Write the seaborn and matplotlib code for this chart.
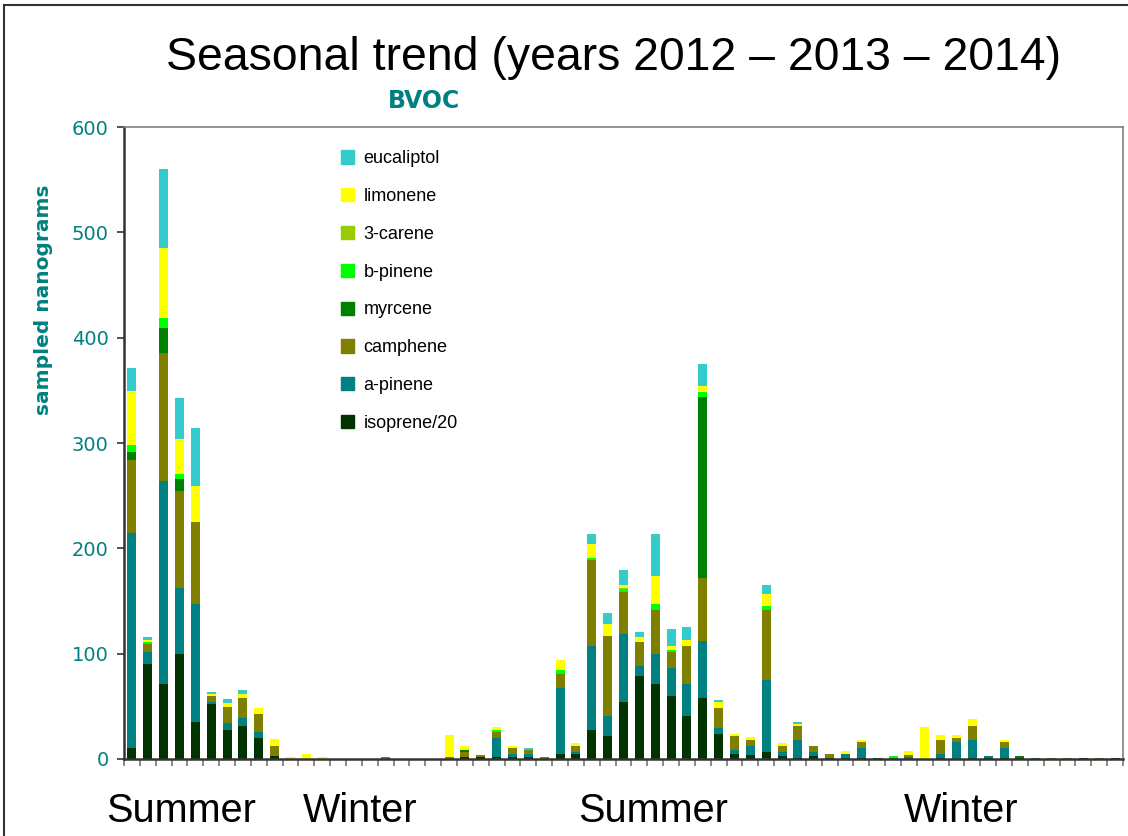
import numpy as np
import pandas as pd
import matplotlib.pyplot as plt
import matplotlib.patches as mpatches
import seaborn as sns

# one value per sample (63 samples)
isoprene = [10, 90, 71, 100, 35, 52, 28, 31, 20, 3, 0, 0, 0, 0, 0, 0, 0, 0, 0, 0,
            0, 1.5, 1.5, 1.5, 1.5, 1.5, 0, 5, 5, 27.5, 22, 54, 79, 71, 60, 41, 58, 24, 5, 4,
            6.5, 3, 1, 3, 1, 0.5, 1, 1, 0, 0, 0, 1, 0, 1, 0.5, 1, 1.3, 0, 0, 0,
            1.3, 0, 1.3]
a_pinene = [205, 12, 193, 62, 112, 2, 6, 8, 6, 0, 0, 0, 0, 0, 0, 0, 0, 0, 0, 0,
            0, 0, 0, 18.5, 3.5, 3.5, 0, 62, 1.5, 79.5, 19, 64.5, 9.5, 28.5, 26.5, 30, 54, 5.5, 3.5, 8.5,
            68.5, 3.5, 17, 4, 0, 4.5, 9.5, 0, 1.3, 2, 0, 4, 16, 17, 2.5, 9.5, 0, 1.3, 0, 0,
            0, 0, 0]
camphene = [69, 7, 121, 92, 78, 6, 15, 19, 17, 9, 0, 0, 0, 0, 0, 0, 1.5, 0, 0, 0,
            1.5, 5, 2, 5.5, 5.5, 3.5, 1.5, 14, 5.5, 82, 76, 40, 23, 42, 15, 36, 60, 18.5, 13, 6,
            66.5, 5.5, 13, 5.5, 4, 0, 5.5, 0, 0, 2, 0, 13, 4, 13, 0, 5.5, 0, 0, 1.3, 1.3,
            0, 1.3, 0]
myrcene = [7, 0, 24, 12, 0, 0, 0, 0, 0, 0, 0, 0, 0, 0, 0, 0, 0, 0, 0, 0,
           0, 2, 0, 0, 0, 0, 0, 0, 0, 0, 0, 0, 0, 0, 0, 0, 172, 0, 0, 0,
           0, 0, 0, 0, 0, 0, 0, 0, 0, 0, 0, 0, 0, 0, 0, 0, 1.5, 0, 0, 0,
           0, 0, 0]
b_pinene = [7, 2, 10, 5, 0, 0, 0, 0, 0, 0, 0, 0, 0, 0, 0, 0, 0, 0, 0, 0,
            0, 0, 0, 2, 0, 0, 0, 3.5, 0, 2, 0, 2.5, 0, 5.5, 2, 0, 4.5, 0, 0, 0,
            3.5, 0, 0, 0, 0, 0, 0, 0, 1.5, 0, 0, 0, 0, 0, 0, 0, 0, 0, 0, 0,
            0, 0, 0]
carene_3 = [0, 0, 0, 0, 0, 0, 0, 0, 0, 0, 0, 0, 0, 0, 0, 0, 0, 0, 0, 0,
            0, 0, 0, 0, 0, 0, 0, 0, 0, 0, 0, 1, 0, 0, 0, 0, 0, 0, 0, 0,
            0, 0, 0, 0, 0, 0, 0, 0, 0, 0, 0, 0, 0, 0, 0, 0, 0, 0, 0, 0,
            0, 0, 0]
limonene = [51, 2, 66, 33, 34, 2, 4, 4, 5, 7, 1.5, 5, 1.5, 0, 0, 0, 0, 0, 0, 0,
            21, 4, 0, 3, 2, 0, 0, 9.5, 3, 13, 11, 3, 4, 27, 4, 6, 5.5, 6, 2, 2,
            11.5, 3, 2, 0, 0, 2.5, 2, 0, 0, 4, 30, 5, 3, 7, 0, 2, 0, 0, 0, 0,
            0, 0, 0]
eucaliptol = [22, 3, 75, 39, 55, 2, 4, 3.5, 0, 0, 0, 0, 0, 0, 0, 0, 0, 0, 0, 0,
              0, 0, 0, 0, 0, 2, 0, 0, 0, 9.5, 10.5, 14, 5.5, 40, 16, 12, 21, 2, 0, 0,
              8.5, 0, 2, 0, 0, 0, 0, 0, 0, 0, 0, 0, 0, 0, 0, 0, 0, 0, 0, 0,
              0, 0, 0]

compounds = ['isoprene/20', 'a-pinene', 'camphene', 'myrcene', 'b-pinene',
             '3-carene', 'limonene', 'eucaliptol']
colors = ['#003300', '#008080', '#808000', '#008000', '#00FF00',
          '#99CC00', '#FFFF00', '#33CCCC']
season_labels = ['Summer', 'Winter', 'Summer', 'Winter']

df = pd.DataFrame(np.array([isoprene, a_pinene, camphene, myrcene, b_pinene,
                            carene_3, limonene, eucaliptol]).T, columns=compounds)
df['sample'] = np.arange(len(df))
cum = df[compounds].cumsum(axis=1)
cum['sample'] = df['sample']

sns.set_theme(style='white')
plt.rcParams['font.family'] = ['DejaVu Sans']
teal = '#008080'

fig = plt.figure(figsize=(11.28, 8.36), dpi=100)
ax = fig.add_axes([124 / 1128, 1 - 759 / 836, 999 / 1128, 632 / 836])

# stacked bars: draw cumulative totals from the top layer down
for name, col in reversed(list(zip(compounds, colors))):
    sns.barplot(data=cum, x='sample', y=name, color=col, width=0.57,
                saturation=1, errorbar=None, linewidth=0, ax=ax)

ax.set_xlim(-0.5, len(df) - 0.5)
ax.set_ylim(0, 600)
ax.set_yticks(range(0, 601, 100))
ax.set_xticks(np.arange(-0.5, len(df), 1))
ax.set_xticklabels([])
ax.set_xlabel('')
ax.set_ylabel('')
ax.tick_params(axis='y', direction='out', length=5, width=1.2, color='#333333',
               labelcolor=teal, labelsize=14, pad=6, left=True)
ax.tick_params(axis='x', direction='out', length=5, width=1.2, color='#777777', bottom=True)
for s in ['left', 'bottom']:
    ax.spines[s].set_color('#333333')
    ax.spines[s].set_linewidth(1.8)
for s in ['top', 'right']:
    ax.spines[s].set_color('#808080')
    ax.spines[s].set_linewidth(1.2)

handles = [mpatches.Patch(color=c, label=n) for n, c in zip(compounds, colors)][::-1]
ax.legend(handles=handles, loc='upper left', bbox_to_anchor=(0.217, 0.963),
          frameon=False, prop={'family': 'Liberation Sans', 'size': 13},
          labelcolor='black', handlelength=0.75, handleheight=0.75, handletextpad=0.5,
          labelspacing=1.15, borderpad=0, borderaxespad=0)

fig.text(614 / 1128, 1 - 70 / 836, 'Seasonal trend (years 2012 \u2013 2013 \u2013 2014)',
         ha='center', va='baseline', fontsize=33.4, family='Liberation Sans', color='black')
fig.text(424 / 1128, 1 - 108 / 836, 'BVOC', ha='center', va='baseline',
         fontsize=17, fontweight='bold', color=teal)
fig.text(44 / 1128, 1 - 300 / 836, 'sampled nanograms', rotation=90, ha='center',
         va='center', fontsize=14.5, fontweight='bold', color=teal)
for lab, xpx in zip(season_labels, [181, 360, 653, 961]):
    fig.text(xpx / 1128, 1 - 822 / 836, lab, ha='center', va='baseline',
             fontsize=28.5, family='Liberation Sans', color='black')

# chart border (cut by the image edge on the right and bottom)
fig.add_artist(mpatches.Rectangle((4 / 1128, -0.1), 1.2, 1.1 - 5 / 836,
                                  transform=fig.transFigure, fill=False,
                                  edgecolor='#333333', linewidth=1.5))

fig.savefig('out.png', dpi=100)
